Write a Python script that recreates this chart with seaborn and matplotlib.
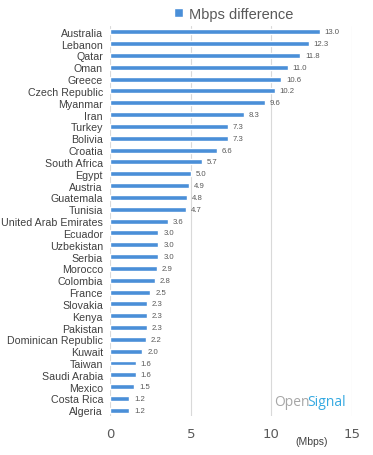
import matplotlib
matplotlib.use("Agg")
import matplotlib.pyplot as plt
import seaborn as sns
import pandas as pd

countries = ["Australia", "Lebanon", "Qatar", "Oman", "Greece", "Czech Republic", "Myanmar",
             "Iran", "Turkey", "Bolivia", "Croatia", "South Africa", "Egypt", "Austria",
             "Guatemala", "Tunisia", "United Arab Emirates", "Ecuador", "Uzbekistan", "Serbia",
             "Morocco", "Colombia", "France", "Slovakia", "Kenya", "Pakistan",
             "Dominican Republic", "Kuwait", "Taiwan", "Saudi Arabia", "Mexico", "Costa Rica",
             "Algeria"]
values = [13.0, 12.3, 11.8, 11.0, 10.6, 10.2, 9.6, 8.3, 7.3, 7.3, 6.6, 5.7, 5.0, 4.9,
          4.8, 4.7, 3.6, 3.0, 3.0, 3.0, 2.9, 2.8, 2.5, 2.3, 2.3, 2.3, 2.2, 2.0, 1.6, 1.6,
          1.5, 1.2, 1.2]
xticks = [0, 5, 10, 15]

df = pd.DataFrame({"country": countries, "mbps": values})

sns.set_theme(style="white")
plt.rcParams['font.family'] = ['Liberation Sans', 'DejaVu Sans']

fig = plt.figure(figsize=(3.73, 4.56), dpi=100)
ax = fig.add_axes([0.295, 0.085, 0.649, 0.856])
color = "#4a8fd8"
sns.barplot(data=df, x="mbps", y="country", color=color, width=0.42, ax=ax,
            saturation=1, label="Mbps difference")

for i, v in enumerate(values):
    ax.text(v + 0.3, i, f"{v:.1f}", va="center", ha="left", fontsize=5.6, color="#595959")

ax.set_xlim(0, 15)
ax.set_xticks(xticks)
ax.set_xticklabels([str(t) for t in xticks], fontsize=9.5, color="#595959",
                   family=["DejaVu Sans"])
ax.tick_params(axis="x", pad=8, length=0)
ax.tick_params(axis="y", length=0, pad=5, labelsize=7.7, labelcolor="#404040")
ax.set_xlabel("")
ax.set_ylabel("")
ax.xaxis.grid(True, color="#d9d9d9", linewidth=0.8)
ax.set_axisbelow(True)
for s in ax.spines.values():
    s.set_visible(False)

ax.legend(loc="lower center", bbox_to_anchor=(0.51, 0.995), frameon=False, fontsize=10.5,
          handlelength=0.6, handleheight=0.6, handletextpad=0.4, labelcolor="#595959",
          borderaxespad=0.1)

fig.text(312 / 373, 1 - 442 / 456, "(Mbps)", fontsize=7.5, color="#404040",
         ha="center", va="center")
fig.text(274 / 373, 1 - 403 / 456, "Open", fontsize=10, color="#a6a6a6",
         ha="left", va="center", family=["Open Sans"])
fig.text(307 / 373, 1 - 403 / 456, "Signal", fontsize=10, color="#35a9e1",
         ha="left", va="center", family=["Open Sans"])

fig.savefig("out.png", dpi=100)
